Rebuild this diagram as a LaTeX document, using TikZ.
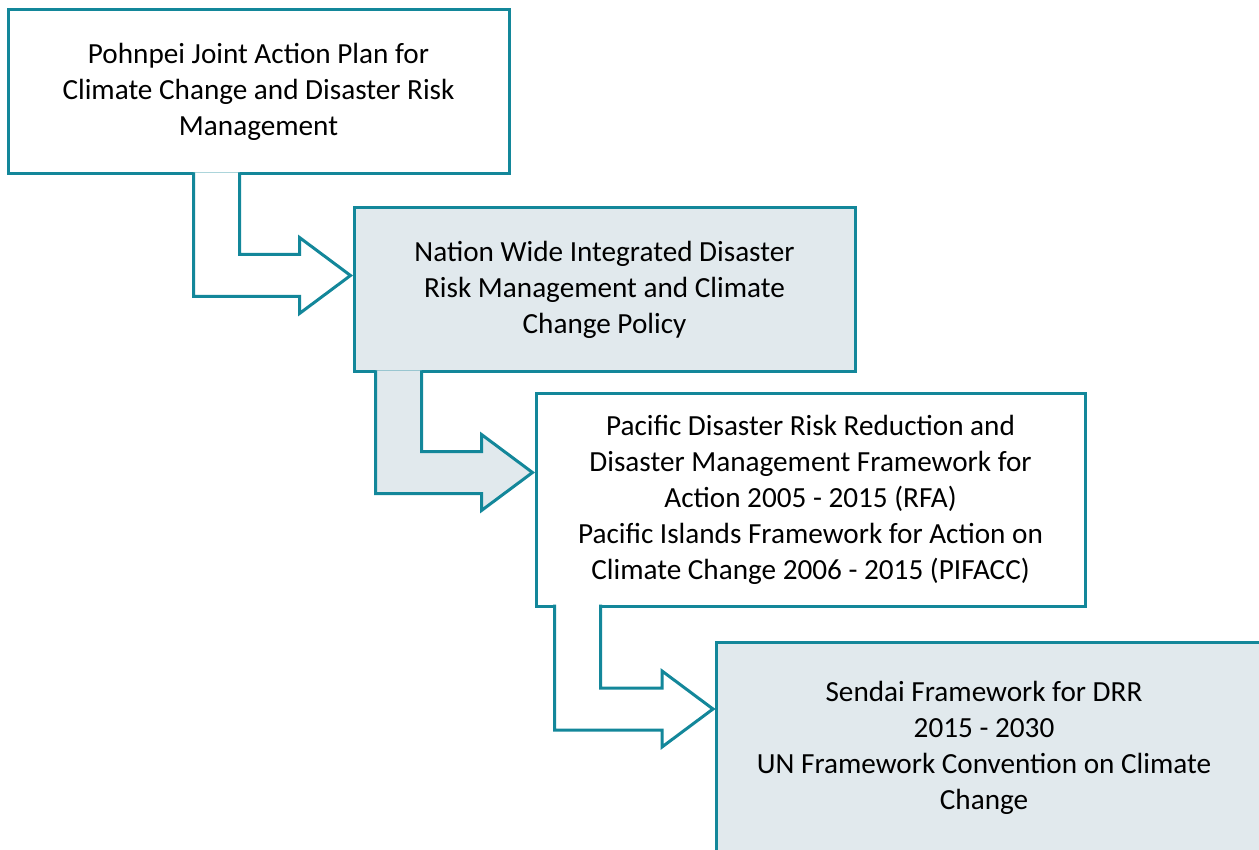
\documentclass[tikz,border=0pt]{standalone}
\usepackage{fontspec}
\setmainfont{Carlito}
\usetikzlibrary{calc}

\definecolor{frameteal}{HTML}{13879A}
\definecolor{paleslate}{HTML}{E1E9ED}

% bent block arrow: fill, start of the stem on the box edge, tip
\newcommand{\bentarrow}[3]{%
  \draw[flowarrow, fill=#1] ($(#2)+(0,-3)$) -- ($(#2 |- #3)+(0,21)$)
    -- ($(#3)+(-51,21)$) -- ($(#3)+(-51,38)$) -- (#3)
    -- ($(#3)+(-51,-38)$) -- ($(#3)+(-51,-21)$)
    -- ($(#2 |- #3)+(46,-21)$) -- ($(#2)+(46,-3)$);
}

\begin{document}
\begin{tikzpicture}[x=0.5pt, y=-0.5pt,
	planbox/.style={draw=frameteal, line width=1.5pt, align=center, inner sep=0pt,
		font=\fontsize{14.6}{18}\selectfont},
	flowarrow/.style={draw=frameteal, line width=1.5pt}]

		\useasboundingbox (0,0) rectangle (1259,850);
		\clip (0,0) rectangle (1259,850);

		% Nodes
		\node[planbox, fill=white, minimum width=250.5pt, minimum height=82pt] (pohnpei) at (258.5,92)
			{Pohnpei Joint Action Plan for\\Climate Change and Disaster Risk\\Management};
		\node[planbox, fill=paleslate, minimum width=250.5pt, minimum height=82pt] (national) at (604.5,290)
			{Nation Wide Integrated Disaster\\Risk Management and Climate\\Change Policy};
		\node[planbox, fill=paleslate, minimum width=290pt, minimum height=120pt, anchor=north west] (sendai) at (715,641) {};
		\node[align=center, inner sep=0pt, font=\fontsize{14.6}{18}\selectfont] (sendaitext) at (984,748)
			{Sendai Framework for DRR\\2015 - 2030\\UN Framework Convention on Climate\\Change};
		\node[planbox, fill=white, minimum width=274.5pt, minimum height=106pt] (pacific) at (810.5,500)
			{Pacific Disaster Risk Reduction and\\Disaster Management Framework for\\Action 2005 - 2015 (RFA)\\Pacific Islands Framework for Action on\\Climate Change 2006 - 2015 (PIFACC)};

		% Stems and tips
		\coordinate (s1) at ($(pohnpei.south west)+(187,0)$);
		\coordinate (t1) at ($(national.north west)+(-2,69)$);
		\coordinate (s2) at ($(national.south west)+(23,0)$);
		\coordinate (t2) at ($(pacific.north west)+(-2,80)$);
		\coordinate (s3) at ($(pacific.south west)+(20,0)$);
		\coordinate (t3) at ($(sendai.north west)+(-2,68)$);

		% Arrows
		\bentarrow{white}{s1}{t1}
		\bentarrow{paleslate}{s2}{t2}
		\bentarrow{white}{s3}{t3}

	\end{tikzpicture}
\end{document}
